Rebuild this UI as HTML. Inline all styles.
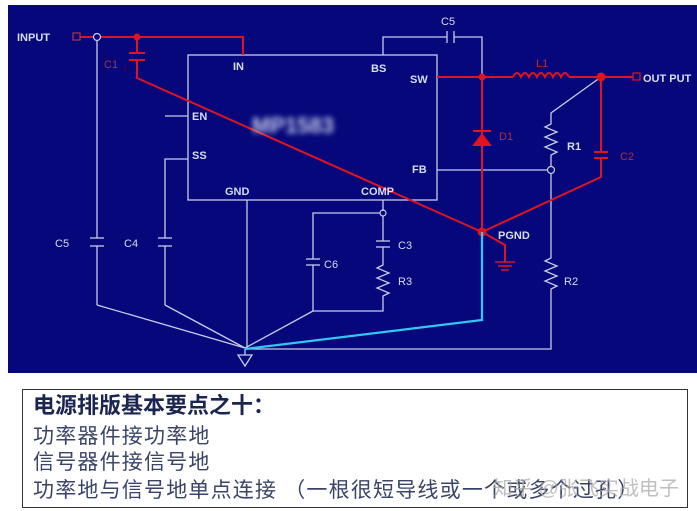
<!DOCTYPE html>
<html><head><meta charset="utf-8"><style>
html,body{margin:0;padding:0;background:#fff;width:697px;height:511px;overflow:hidden}
svg{position:absolute;left:0;top:0}
.t{font-family:"Liberation Sans",Arial,sans-serif;font-size:11px;fill:#d8dcf0;font-weight:bold}
.r{font-family:"Liberation Sans",Arial,sans-serif;font-size:11px;fill:#b0303a}
.box{position:absolute;left:22px;top:389px;width:666px;height:119px;border:1.5px solid #333;box-sizing:border-box;font-family:"Liberation Sans","Noto Sans CJK SC",sans-serif;color:#3a4468}
.box div{position:absolute;left:10px;white-space:nowrap;font-size:21px;line-height:26px;letter-spacing:1.2px}
</style></head><body>
<svg width="697" height="511" viewBox="0 0 697 511">
<rect x="8" y="5" width="689" height="368" fill="#05077a"/>
<g stroke="#c8cce8" stroke-width="1.3" fill="none">
<rect x="188" y="55" width="249" height="145"/>
<line x1="165" y1="116" x2="188" y2="116"/>
<polyline points="188,159 165,159 165,238"/><line x1="165" y1="246" x2="165" y2="305"/>
<line x1="158" y1="238" x2="172" y2="238"/><line x1="158" y1="246" x2="172" y2="246"/>
<polyline points="97,40 97,238"/><line x1="97" y1="246" x2="97" y2="305"/>
<line x1="90" y1="238" x2="104" y2="238"/><line x1="90" y1="246" x2="104" y2="246"/>
<line x1="97" y1="305" x2="245" y2="348"/><line x1="165" y1="305" x2="245" y2="348"/>
<line x1="247" y1="200" x2="247" y2="348"/>
<polyline points="383,55 383,37 447,37"/><polyline points="454,37 482,37 482,77"/>
<line x1="447" y1="31" x2="447" y2="43"/><line x1="454" y1="31" x2="454" y2="43"/>
<line x1="383" y1="200" x2="383" y2="211"/>
<polyline points="380,213 313,213 313,259"/><line x1="313" y1="265" x2="313" y2="311"/>
<line x1="306" y1="259" x2="320" y2="259"/><line x1="306" y1="265" x2="320" y2="265"/>
<line x1="383" y1="216" x2="383" y2="241"/><line x1="376" y1="241" x2="390" y2="241"/><line x1="376" y1="247" x2="390" y2="247"/>
<polyline points="383,247 383,265 377,268 389,273 377,278 389,283 377,288 389,293 383,296 383,311 313,311"/>
<line x1="313" y1="311" x2="245" y2="348"/>
<line x1="437" y1="170" x2="548" y2="170"/>
<polyline points="601,77 551,113 551,124 545,127 557,132 545,137 557,142 545,147 557,152 551,155 551,166"/>
<polyline points="551,174 551,258 545,261 557,266 545,271 557,276 545,281 557,286 551,289 551,349 245,349"/>
<polygon points="238,355 252,355 245,366"/>
<line x1="245" y1="349" x2="245" y2="355"/>
</g>
<circle cx="383" cy="213" r="3" fill="none" stroke="#c8cce8" stroke-width="1.2"/>
<circle cx="551" cy="170" r="3.5" fill="#05077a" stroke="#c8cce8" stroke-width="1.2"/>
<circle cx="97" cy="37" r="3.5" fill="#05077a" stroke="#c8cce8" stroke-width="1.2"/>
<g stroke="#e0141e" stroke-width="2" fill="none">
<polyline points="80,37 93,37"/><polyline points="101,37 243,37 243,55"/>
<line x1="137" y1="37" x2="137" y2="53"/><line x1="129" y1="53" x2="145" y2="53"/><line x1="129" y1="60" x2="145" y2="60"/>
<polyline points="137,60 137,78 482,232"/>
<polyline points="437,77 513,77"/>
<path d="M513,77 q4,-8 8,0 q4,-8 8,0 q4,-8 8,0 q4,-8 8,0 q4,-8 8,0 q4,-8 8,0 q4,-8 8,0"/>
<polyline points="569,77 633,77"/>
<line x1="482" y1="77" x2="482" y2="232"/>
<line x1="601" y1="77" x2="601" y2="152"/><line x1="594" y1="152" x2="608" y2="152"/><line x1="594" y1="158" x2="608" y2="158"/>
<polyline points="601,158 601,177 482,232"/>
<polyline points="482,232 505,245 505,262"/>
<line x1="473" y1="131" x2="491" y2="131"/>
</g>
<g stroke="#e0141e" stroke-width="1.5"><line x1="495" y1="262" x2="515" y2="262"/><line x1="498" y1="266" x2="512" y2="266"/><line x1="501" y1="270" x2="509" y2="270"/></g>
<polygon points="472,146 492,146 482,133" fill="#e0141e"/>
<rect x="73" y="33" width="7" height="7" fill="none" stroke="#c03040" stroke-width="1.2"/>
<rect x="633" y="73" width="7" height="7" fill="none" stroke="#e0141e" stroke-width="1.2"/>
<circle cx="137" cy="37" r="3.5" fill="#e0141e"/><circle cx="482" cy="77" r="3.5" fill="#e0141e"/>
<circle cx="601" cy="77" r="4.5" fill="#e0141e"/><circle cx="482" cy="232" r="4.5" fill="#e0141e"/>
<polyline points="482,232 482,320 245,349" stroke="#30c8f0" stroke-width="2.2" fill="none"/>
<text x="252" y="133" style="font-family:'Liberation Sans';font-size:22px;font-weight:bold;fill:#c8cce8;filter:blur(3px)">MP1583</text>
<text class="t" x="17" y="41">INPUT</text>
<text class="r" x="104" y="68">C1</text>
<text class="t" x="233" y="70">IN</text>
<text class="t" x="192" y="120">EN</text>
<text class="t" x="192" y="159">SS</text>
<text class="t" x="225" y="195">GND</text>
<text class="t" x="361" y="195">COMP</text>
<text class="t" x="371" y="72">BS</text>
<text class="t" x="410" y="83">SW</text>
<text class="t" x="412" y="173">FB</text>
<text class="t" x="441" y="25" style="font-weight:normal">C5</text>
<text class="r" x="536" y="67">L1</text>
<text class="t" x="643" y="82">OUT PUT</text>
<text class="r" x="499" y="140">D1</text>
<text class="t" x="567" y="150">R1</text>
<text class="r" x="620" y="160">C2</text>
<text class="t" x="498" y="239">PGND</text>
<text class="t" x="55" y="247" style="font-weight:normal">C5</text>
<text class="t" x="124" y="247" style="font-weight:normal">C4</text>
<text class="t" x="398" y="249" style="font-weight:normal">C3</text>
<text class="t" x="324" y="268" style="font-weight:normal">C6</text>
<text class="t" x="398" y="285" style="font-weight:normal">R3</text>
<text class="t" x="564" y="285" style="font-weight:normal">R2</text>
</svg>
<div class="box">
<div style="top:3px;font-weight:bold;font-size:22px;color:#1a2550;letter-spacing:0">电源排版基本要点之十：</div>
<div style="top:34px">功率器件接功率地</div>
<div style="top:60px">信号器件接信号地</div>
<div style="top:88px">功率地与信号地单点连接 （一根很短导线或一个或多个过孔）</div>
<div style="top:86px;left:470px;color:rgba(170,170,170,0.75);font-size:20px;letter-spacing:0">知乎 @张飞实战电子</div>
</div>
</body></html>
